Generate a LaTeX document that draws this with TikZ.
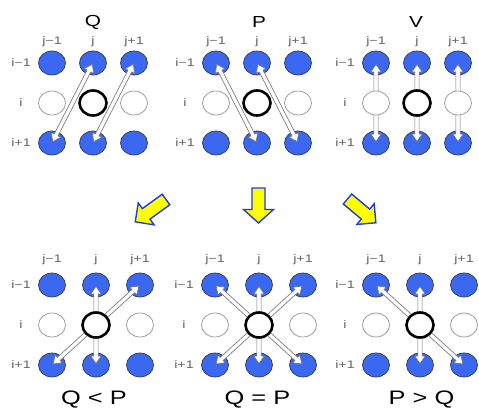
\documentclass[tikz,border=0pt]{standalone}
\usepackage{fontspec}
\setmainfont{Liberation Sans}[FakeStretch=1.3]
\usetikzlibrary{shapes.geometric}
\definecolor{dotblue}{RGB}{58,104,240}
\definecolor{dotedge}{RGB}{55,55,70}
\definecolor{lblgray}{RGB}{100,100,100}
\definecolor{arredge}{RGB}{120,120,120}
\definecolor{ayellow}{RGB}{255,255,0}
\definecolor{ablue}{RGB}{30,60,225}
\tikzset{
  x=1pt, y=-1pt,
  dot/.style={ellipse, inner sep=0pt, minimum width=27pt, minimum height=24pt,
    draw=dotedge, line width=0.7pt, fill=dotblue},
  hole/.style={ellipse, inner sep=0pt, minimum width=27pt, minimum height=24pt,
    draw=gray!80, line width=0.75pt, fill=white},
  ctr/.style={ellipse, inner sep=0pt, minimum width=27pt, minimum height=25pt,
    draw=black, line width=2.6pt, fill=white},
  lbl/.style={text=lblgray, inner sep=0pt, font=\fontsize{11}{13}\selectfont},
  ttl/.style={text=black, inner sep=0pt, font=\fontsize{16}{19}\selectfont},
  cmp/.style={text=black, inner sep=0pt, font=\fontsize{19.5}{22}\selectfont},
  dblarrow/.style={draw=arredge, fill=white, line width=0.65pt, line join=miter},
  blockarr/.style={draw=ablue, fill=ayellow, line width=1.4pt, line join=miter}
}
% blue rows (i-1 and i+1)
\newcommand\bluerows[5]{% prefix, x1, dx, y1, dy
  \foreach \k in {1,2,3}{%
    \node[dot] (#1a\k) at ({#2+(\k-1)*#3},#4) {};
    \node[dot] (#1c\k) at ({#2+(\k-1)*#3},{#4+2*#5}) {};
  }}
% middle row (i)
\newcommand\midrow[5]{%
  \node[hole] (#1b1) at (#2,{#4+#5}) {};
  \node[ctr]  (#1b2) at ({#2+#3},{#4+#5}) {};
  \node[hole] (#1b3) at ({#2+2*#3},{#4+#5}) {};}
% labels
\newcommand\gridlabels[6]{% prefix, x1, dx, y1, dy, column-label y
  \node[lbl] (#1lj1) at (#2,#6) {j−1};
  \node[lbl] (#1lj2) at ({#2+#3},#6) {j};
  \node[lbl] (#1lj3) at ({#2+2*#3},#6) {j+1};
  \node[lbl] (#1li1) at ({#2-31},#4) {i−1};
  \node[lbl] (#1li2) at ({#2-31},{#4+#5}) {i};
  \node[lbl] (#1li3) at ({#2-31},{#4+2*#5}) {i+1};}
% double headed hollow arrow between two named nodes
\newcommand\twoarrow[2]{%
  \pgfpointdiff{\pgfpointanchor{#1}{center}}{\pgfpointanchor{#2}{center}}%
  \pgfgetlastxy{\arrdx}{\arrdy}%
  \pgfmathsetmacro\arrang{atan2(\arrdy,\arrdx)}%
  \pgfmathsetmacro\arrlen{veclen(\arrdx,\arrdy)}%
  \draw[dblarrow, shift={(#1.center)}, rotate=\arrang]
    (1.5,0) -- (9,5.2) -- (9,2.1) -- ({\arrlen-9},2.1) -- ({\arrlen-9},5.2)
    -- ({\arrlen-1.5},0) -- ({\arrlen-9},-5.2) -- ({\arrlen-9},-2.1)
    -- (9,-2.1) -- (9,-5.2) -- cycle;}
% yellow block arrow: tail point, canvas angle, length, head half width
\newcommand\blockarrow[4]{%
  \draw[blockarr, shift={#1}, rotate=#2]
    (0,-6.5) -- ({#3-13.5},-6.5) -- ({#3-13.5},-#4) -- (#3,0)
    -- ({#3-13.5},#4) -- ({#3-13.5},6.5) -- (0,6.5) -- cycle;}
\begin{document}
\begin{tikzpicture}
\useasboundingbox (0,0) rectangle (479,412);
% ---------- top row ----------
\bluerows{q}{52}{41}{63}{40}
\bluerows{p}{216}{41}{63}{40}
\bluerows{v}{376}{41}{63}{40}
\twoarrow{qc1}{qa2}
\twoarrow{qc2}{qa3}
\twoarrow{pa1}{pc2}
\twoarrow{pa2}{pc3}
\twoarrow{va1}{vc1}
\twoarrow{va2}{vc2}
\twoarrow{va3}{vc3}
\midrow{q}{52}{41}{63}{40}
\midrow{p}{216}{41}{63}{40}
\midrow{v}{376}{41}{63}{40}
\gridlabels{q}{52}{41}{63}{40}{42}
\gridlabels{p}{216}{41}{63}{40}{42}
\gridlabels{v}{376}{41}{63}{40}{42}
\node[ttl] (tq) at (93,22) {Q};
\node[ttl] (tp) at (259,22) {P};
\node[ttl] (tv) at (416,22) {V};
% ---------- block arrows ----------
\blockarrow{(166,199.5)}{216}{38}{13.5}
\blockarrow{(258.5,188)}{-90}{35}{15}
\blockarrow{(347.5,199)}{-40}{37}{13.5}
% ---------- bottom row ----------
\bluerows{l}{52}{44}{285}{40}
\bluerows{e}{215}{44}{285}{40}
\bluerows{g}{376}{44}{285}{40}
\twoarrow{la2}{lc2}
\twoarrow{lc1}{la3}
\twoarrow{ea2}{ec2}
\twoarrow{ec1}{ea3}
\twoarrow{ea1}{ec3}
\twoarrow{ga2}{gc2}
\twoarrow{ga1}{gc3}
\midrow{l}{52}{44}{285}{40}
\midrow{e}{215}{44}{285}{40}
\midrow{g}{376}{44}{285}{40}
\gridlabels{l}{52}{44}{285}{40}{260}
\gridlabels{e}{215}{44}{285}{40}{260}
\gridlabels{g}{376}{44}{285}{40}{260}
\node[cmp] (cl) at (94,400) {Q < P};
\node[cmp] (ce) at (257.5,400) {Q = P};
\node[cmp] (cg) at (421.5,400) {P > Q};
\end{tikzpicture}
\end{document}
